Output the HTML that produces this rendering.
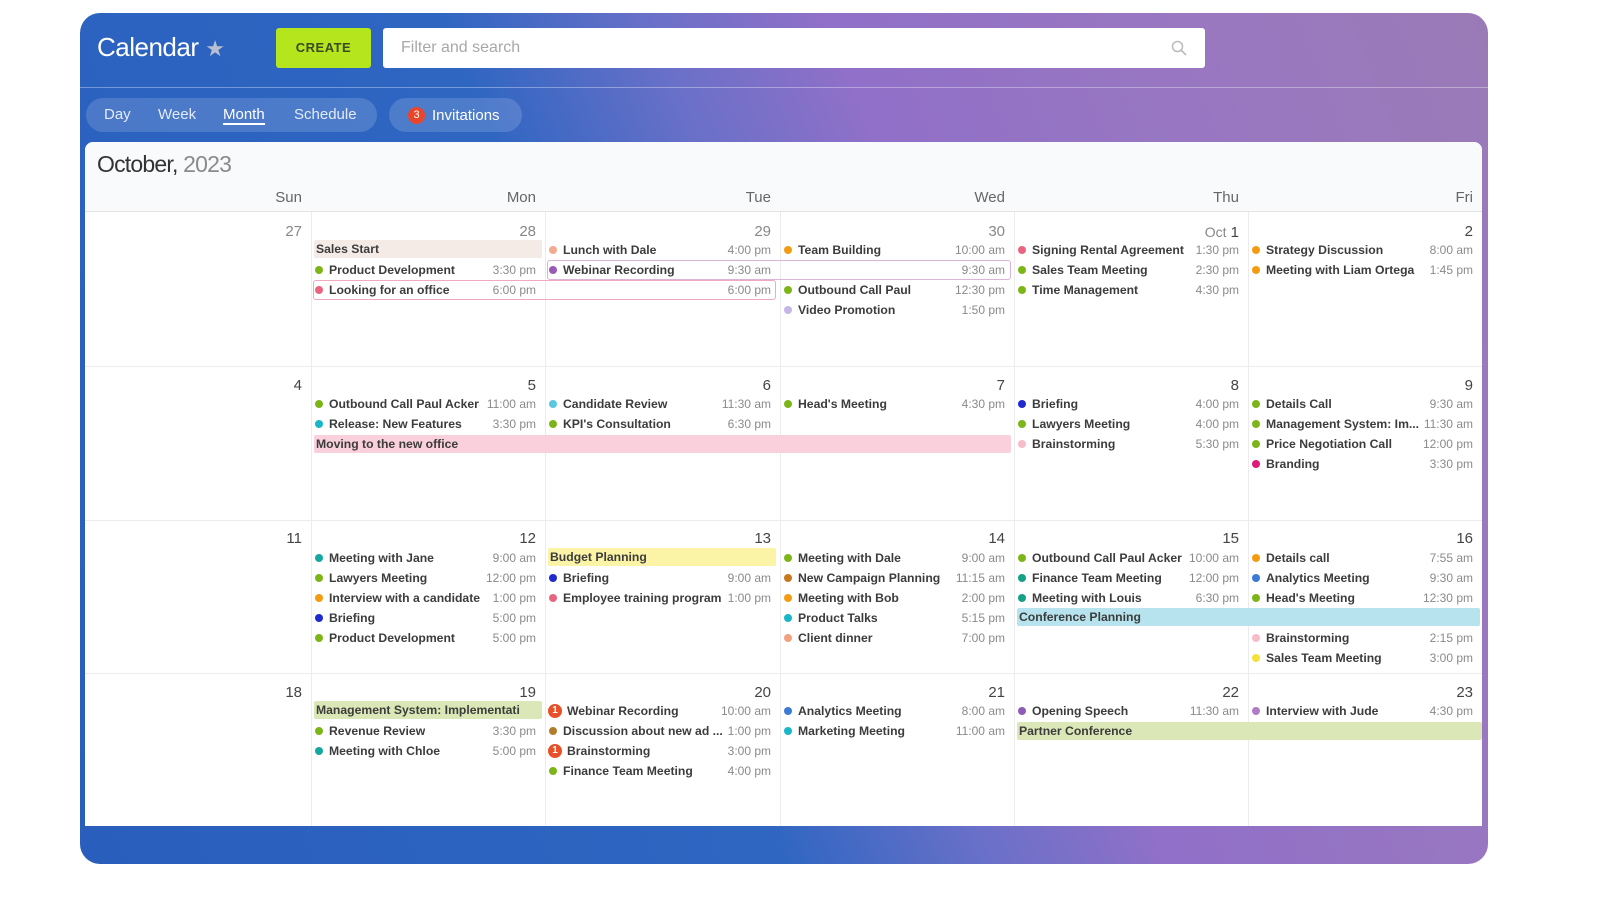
<!DOCTYPE html>
<html><head><meta charset="utf-8"><style>
*{margin:0;padding:0;box-sizing:border-box}
body{width:1600px;height:906px;background:#fff;font-family:"Liberation Sans",sans-serif;position:relative;overflow:hidden}
.wrap{position:absolute;left:80px;top:13px;width:1408px;height:851px;border-radius:20px;background:linear-gradient(68deg,#2a5ebd 0%,#2e66c2 40%,#6a70c8 52%,#9070c8 62%,#9a78c0 85%,#9a7ab6 100%);overflow:hidden}
.a{position:absolute}
.panel{position:absolute;left:85px;top:142px;width:1397px;height:684px;background:#fff;border-radius:8px 8px 0 0}
.hd{position:absolute;left:85px;top:142px;width:1397px;height:70px;background:#f9fafc;border-radius:8px 8px 0 0;border-bottom:1px solid #e3e3e3}
.dn{position:absolute;font-size:15px;color:#666;text-align:right;width:200px}
.vl{position:absolute;top:212px;width:1px;height:614px;background:#ececec}
.hl{position:absolute;left:85px;width:1397px;height:1px;background:#ececec}
.num{position:absolute;font-size:15px;color:#444;text-align:right;width:100px;line-height:18px}
.e{position:absolute;height:20px;line-height:20px;font-size:12.2px;font-weight:bold;color:#3c3c3c;padding-left:14px;white-space:nowrap}
.e i{position:absolute;left:0;top:6px;width:8px;height:8px;border-radius:50%}
.e b{position:absolute;right:5px;top:0;font-weight:normal;color:#8a8a8a;font-size:12px;background:#fff;padding-left:3px}
.e.bg{padding-left:18px}
.e.bg i{left:-1px;top:3px;width:14px;height:14px;background:#e8502a;color:#fff;font-size:10px;font-style:normal;line-height:14px;text-align:center}
.bar{position:absolute;height:18px;line-height:18px;font-size:12.2px;font-weight:bold;color:#3c3c3c;padding-left:2px;border-radius:2px;white-space:nowrap;overflow:hidden}
.ol{position:absolute;height:20px;border-radius:3px;z-index:5}
</style></head><body>
<div class="wrap"></div>
<div class="a" style="left:80px;top:87px;width:1408px;height:1px;background:rgba(255,255,255,0.35)"></div>
<div class="a" style="left:97px;top:32px;font-size:26px;color:#fff;letter-spacing:-0.5px">Calendar <span style="color:#b9bfd0;font-size:22px">★</span></div>
<div class="a" style="left:276px;top:28px;width:95px;height:40px;background:#b5e61d;border-radius:3px;color:#3a4a22;font-weight:bold;font-size:13px;text-align:center;line-height:40px;letter-spacing:0.5px">CREATE</div>
<div class="a" style="left:383px;top:28px;width:822px;height:40px;background:#fff;border-radius:3px;color:#a8a8a8;font-size:16px;line-height:40px;padding-left:18px">Filter and search
<svg style="position:absolute;right:18px;top:12px" width="16" height="16"><circle cx="6.5" cy="6.5" r="5" fill="none" stroke="#bbb" stroke-width="1.5"/><line x1="10" y1="10" x2="15" y2="15" stroke="#bbb" stroke-width="1.6"/></svg></div>
<div class="a" style="left:86px;top:98px;width:291px;height:34px;border-radius:17px;background:rgba(255,255,255,0.15)"></div>
<div class="a" style="left:104px;top:106px;font-size:15px;color:rgba(255,255,255,0.85)">Day</div>
<div class="a" style="left:158px;top:106px;font-size:15px;color:rgba(255,255,255,0.85)">Week</div>
<div class="a" style="left:223px;top:106px;font-size:15px;color:#fff;border-bottom:2px solid #fff;line-height:17px">Month</div>
<div class="a" style="left:294px;top:106px;font-size:15px;color:rgba(255,255,255,0.85)">Schedule</div>
<div class="a" style="left:389px;top:98px;width:133px;height:34px;border-radius:17px;background:rgba(255,255,255,0.15)"></div>
<div class="a" style="left:408px;top:107px;width:17px;height:17px;border-radius:50%;background:#e8452a;color:#fff;font-size:11px;text-align:center;line-height:17px">3</div>
<div class="a" style="left:432px;top:107px;font-size:15px;color:#fff">Invitations</div>

<div class="panel"></div>
<div class="hd"></div>
<div class="a" style="left:97px;top:151px;font-size:23px;color:#333;letter-spacing:-0.8px">October, <span style="color:#8a8a8a">2023</span></div>
<div class="dn" style="left:102px;top:189px">Sun</div>
<div class="dn" style="left:336px;top:189px">Mon</div>
<div class="dn" style="left:571px;top:189px">Tue</div>
<div class="dn" style="left:805px;top:189px">Wed</div>
<div class="dn" style="left:1039px;top:189px">Thu</div>
<div class="dn" style="left:1273px;top:189px">Fri</div>
<div class="vl" style="left:311px"></div><div class="vl" style="left:545px"></div><div class="vl" style="left:780px"></div><div class="vl" style="left:1014px"></div><div class="vl" style="left:1248px"></div>
<div class="hl" style="top:366px"></div><div class="hl" style="top:520px"></div><div class="hl" style="top:673px"></div>

<div class="num" style="left:202px;top:223px;color:#888">27</div>
<div class="num" style="left:436px;top:223px;color:#888">28</div>
<div class="num" style="left:671px;top:223px;color:#888">29</div>
<div class="num" style="left:905px;top:223px;color:#888">30</div>
<div class="num" style="left:1139px;top:223px"><span style="color:#888;font-size:14px">Oct</span> 1</div>
<div class="num" style="left:1373px;top:223px">2</div>
<div class="num" style="left:202px;top:377px">4</div><div class="num" style="left:436px;top:377px">5</div><div class="num" style="left:671px;top:377px">6</div><div class="num" style="left:905px;top:377px">7</div><div class="num" style="left:1139px;top:377px">8</div><div class="num" style="left:1373px;top:377px">9</div>
<div class="num" style="left:202px;top:530px">11</div><div class="num" style="left:436px;top:530px">12</div><div class="num" style="left:671px;top:530px">13</div><div class="num" style="left:905px;top:530px">14</div><div class="num" style="left:1139px;top:530px">15</div><div class="num" style="left:1373px;top:530px">16</div>
<div class="num" style="left:202px;top:684px">18</div><div class="num" style="left:436px;top:684px">19</div><div class="num" style="left:671px;top:684px">20</div><div class="num" style="left:905px;top:684px">21</div><div class="num" style="left:1139px;top:684px">22</div><div class="num" style="left:1373px;top:684px">23</div>

<div class="bar" style="left:314px;top:240px;width:228px;background:#f4ebe7">Sales Start</div>
<div class="e" style="left:315px;top:260px;width:226px"><i style="background:#7cb518"></i>Product Development<b>3:30 pm</b></div>
<div class="ol" style="left:313px;top:280px;width:463px;border:1px solid #f1a9bd"></div>
<div class="e" style="left:315px;top:280px;width:226px"><i style="background:#e9657f"></i>Looking for an office<b>6:00 pm</b></div>
<div class="e" style="left:549px;top:280px;width:227px"><b>6:00 pm</b></div>
<div class="e" style="left:549px;top:240px;width:227px"><i style="background:#f2ab8f"></i>Lunch with Dale<b>4:00 pm</b></div>
<div class="ol" style="left:547px;top:260px;width:464px;border:1px solid #d9b5d9"></div>
<div class="e" style="left:549px;top:260px;width:227px"><i style="background:#9b59b6"></i>Webinar Recording<b>9:30 am</b></div>
<div class="e" style="left:784px;top:260px;width:226px"><b>9:30 am</b></div>
<div class="e" style="left:784px;top:240px;width:226px"><i style="background:#f39c12"></i>Team Building<b>10:00 am</b></div>
<div class="e" style="left:784px;top:280px;width:226px"><i style="background:#7cb518"></i>Outbound Call Paul<b>12:30 pm</b></div>
<div class="e" style="left:784px;top:300px;width:226px"><i style="background:#c5b6e6"></i>Video Promotion<b>1:50 pm</b></div>
<div class="e" style="left:1018px;top:240px;width:226px"><i style="background:#e9657f"></i>Signing Rental Agreement<b>1:30 pm</b></div>
<div class="e" style="left:1018px;top:260px;width:226px"><i style="background:#7cb518"></i>Sales Team Meeting<b>2:30 pm</b></div>
<div class="e" style="left:1018px;top:280px;width:226px"><i style="background:#7cb518"></i>Time Management<b>4:30 pm</b></div>
<div class="e" style="left:1252px;top:240px;width:226px"><i style="background:#f39c12"></i>Strategy Discussion<b>8:00 am</b></div>
<div class="e" style="left:1252px;top:260px;width:226px"><i style="background:#f39c12"></i>Meeting with Liam Ortega<b>1:45 pm</b></div>

<div class="e" style="left:315px;top:394px;width:226px"><i style="background:#7cb518"></i>Outbound Call Paul Acker<b>11:00 am</b></div>
<div class="e" style="left:315px;top:414px;width:226px"><i style="background:#19b5c8"></i>Release: New Features<b>3:30 pm</b></div>
<div class="bar" style="left:314px;top:435px;width:697px;background:#f9d0db">Moving to the new office</div>
<div class="e" style="left:549px;top:394px;width:227px"><i style="background:#5cc8e0"></i>Candidate Review<b>11:30 am</b></div>
<div class="e" style="left:549px;top:414px;width:227px"><i style="background:#7cb518"></i>KPI's Consultation<b>6:30 pm</b></div>
<div class="e" style="left:784px;top:394px;width:226px"><i style="background:#7cb518"></i>Head's Meeting<b>4:30 pm</b></div>
<div class="e" style="left:1018px;top:394px;width:226px"><i style="background:#1f2bd0"></i>Briefing<b>4:00 pm</b></div>
<div class="e" style="left:1018px;top:414px;width:226px"><i style="background:#7cb518"></i>Lawyers Meeting<b>4:00 pm</b></div>
<div class="e" style="left:1018px;top:434px;width:226px"><i style="background:#f6bcc8"></i>Brainstorming<b>5:30 pm</b></div>
<div class="e" style="left:1252px;top:394px;width:226px"><i style="background:#7cb518"></i>Details Call<b>9:30 am</b></div>
<div class="e" style="left:1252px;top:414px;width:226px"><i style="background:#7cb518"></i>Management System: Im...<b>11:30 am</b></div>
<div class="e" style="left:1252px;top:434px;width:226px"><i style="background:#7cb518"></i>Price Negotiation Call<b>12:00 pm</b></div>
<div class="e" style="left:1252px;top:454px;width:226px"><i style="background:#e0197a"></i>Branding<b>3:30 pm</b></div>

<div class="e" style="left:315px;top:548px;width:226px"><i style="background:#16a8a0"></i>Meeting with Jane<b>9:00 am</b></div>
<div class="e" style="left:315px;top:568px;width:226px"><i style="background:#7cb518"></i>Lawyers Meeting<b>12:00 pm</b></div>
<div class="e" style="left:315px;top:588px;width:226px"><i style="background:#f39c12"></i>Interview with a candidate<b>1:00 pm</b></div>
<div class="e" style="left:315px;top:608px;width:226px"><i style="background:#1f2bd0"></i>Briefing<b>5:00 pm</b></div>
<div class="e" style="left:315px;top:628px;width:226px"><i style="background:#7cb518"></i>Product Development<b>5:00 pm</b></div>
<div class="bar" style="left:548px;top:548px;width:228px;background:#fbf4a6">Budget Planning</div>
<div class="e" style="left:549px;top:568px;width:227px"><i style="background:#1f2bd0"></i>Briefing<b>9:00 am</b></div>
<div class="e" style="left:549px;top:588px;width:227px"><i style="background:#e9657f"></i>Employee training program<b>1:00 pm</b></div>
<div class="e" style="left:784px;top:548px;width:226px"><i style="background:#7cb518"></i>Meeting with Dale<b>9:00 am</b></div>
<div class="e" style="left:784px;top:568px;width:226px"><i style="background:#c8781e"></i>New Campaign Planning<b>11:15 am</b></div>
<div class="e" style="left:784px;top:588px;width:226px"><i style="background:#f39c12"></i>Meeting with Bob<b>2:00 pm</b></div>
<div class="e" style="left:784px;top:608px;width:226px"><i style="background:#19b5c8"></i>Product Talks<b>5:15 pm</b></div>
<div class="e" style="left:784px;top:628px;width:226px"><i style="background:#f2a080"></i>Client dinner<b>7:00 pm</b></div>
<div class="e" style="left:1018px;top:548px;width:226px"><i style="background:#7cb518"></i>Outbound Call Paul Acker<b>10:00 am</b></div>
<div class="e" style="left:1018px;top:568px;width:226px"><i style="background:#16a085"></i>Finance Team Meeting<b>12:00 pm</b></div>
<div class="e" style="left:1018px;top:588px;width:226px"><i style="background:#16a085"></i>Meeting with Louis<b>6:30 pm</b></div>
<div class="bar" style="left:1017px;top:608px;width:463px;background:#b6e3ed">Conference Planning</div>
<div class="e" style="left:1252px;top:548px;width:226px"><i style="background:#f39c12"></i>Details call<b>7:55 am</b></div>
<div class="e" style="left:1252px;top:568px;width:226px"><i style="background:#3a7bd5"></i>Analytics Meeting<b>9:30 am</b></div>
<div class="e" style="left:1252px;top:588px;width:226px"><i style="background:#7cb518"></i>Head's Meeting<b>12:30 pm</b></div>
<div class="e" style="left:1252px;top:628px;width:226px"><i style="background:#f6bcc8"></i>Brainstorming<b>2:15 pm</b></div>
<div class="e" style="left:1252px;top:648px;width:226px"><i style="background:#f5e13a"></i>Sales Team Meeting<b>3:00 pm</b></div>

<div class="bar" style="left:314px;top:701px;width:228px;background:#dbe7b6">Management System: Implementati</div>
<div class="e" style="left:315px;top:721px;width:226px"><i style="background:#7cb518"></i>Revenue Review<b>3:30 pm</b></div>
<div class="e" style="left:315px;top:741px;width:226px"><i style="background:#16a8a0"></i>Meeting with Chloe<b>5:00 pm</b></div>
<div class="e bg" style="left:549px;top:701px;width:227px"><i>1</i>Webinar Recording<b>10:00 am</b></div>
<div class="e" style="left:549px;top:721px;width:227px"><i style="background:#b07d2b"></i>Discussion about new ad ...<b>1:00 pm</b></div>
<div class="e bg" style="left:549px;top:741px;width:227px"><i>1</i>Brainstorming<b>3:00 pm</b></div>
<div class="e" style="left:549px;top:761px;width:227px"><i style="background:#7cb518"></i>Finance Team Meeting<b>4:00 pm</b></div>
<div class="e" style="left:784px;top:701px;width:226px"><i style="background:#3a7bd5"></i>Analytics Meeting<b>8:00 am</b></div>
<div class="e" style="left:784px;top:721px;width:226px"><i style="background:#19b5c8"></i>Marketing Meeting<b>11:00 am</b></div>
<div class="e" style="left:1018px;top:701px;width:226px"><i style="background:#8e5cb6"></i>Opening Speech<b>11:30 am</b></div>
<div class="bar" style="left:1017px;top:722px;width:465px;background:#dbe7b6">Partner Conference</div>
<div class="e" style="left:1252px;top:701px;width:226px"><i style="background:#b07cc6"></i>Interview with Jude<b>4:30 pm</b></div>
</body></html>
